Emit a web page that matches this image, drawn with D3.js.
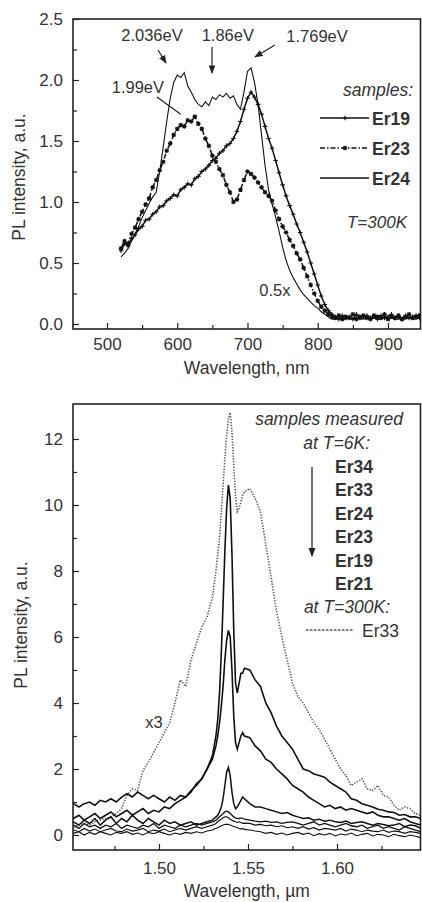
<!DOCTYPE html>
<html><head><meta charset="utf-8">
<script src="https://cdn.jsdelivr.net/npm/d3@7"></script>
<style>body{margin:0;background:#fff}svg{display:block}text{font-family:"Liberation Sans",Arial,sans-serif;fill:#333}</style>
</head><body><svg id="c" width="422" height="902"></svg>
<script>
// ---------- TOP PANEL DATA (T=300K) ----------
const topWl = [520,525,530,535,540,545,550,555,560,565,
570,575,580,585,590,595,600,605,610,615,
620,625,630,635,640,645,650,655,660,665,
670,675,680,685,690,695,700,705,710,715,
720,725,730,735,740,745,750,755,760,765,
770,775,780,785,790,795,800,805,810,815,
820,825,830,835,840,845,850,855,860,865,
870,875,880,885,890,895,900,905,910,915,
920,925,930,935,940,945];
const topEr24 = [0.55,0.58,0.62,0.68,0.74,0.80,0.87,0.93,0.99,1.04,
1.08,1.25,1.45,1.66,1.85,1.98,2.04,2.02,2.06,1.95,
1.90,1.84,1.80,1.78,1.82,1.79,1.86,1.84,1.88,1.86,
1.89,1.85,1.87,1.80,1.76,1.90,2.07,2.10,1.98,1.80,
1.55,1.30,1.10,0.98,0.88,0.76,0.63,0.52,0.44,0.38,
0.33,0.28,0.24,0.21,0.18,0.15,0.13,0.10,0.08,0.06,
0.04,0.04,0.05,0.04,0.04,0.05,0.04,0.05,0.04,0.04,
0.05,0.04,0.05,0.04,0.04,0.05,0.04,0.05,0.04,0.04,
0.05,0.04,0.05,0.04,0.04,0.05];
const topEr23 = [0.62,0.68,0.66,0.74,0.79,0.86,0.92,0.98,1.03,1.12,
1.18,1.26,1.33,1.42,1.48,1.55,1.60,1.63,1.62,1.67,
1.66,1.70,1.64,1.60,1.52,1.46,1.38,1.33,1.27,1.22,
1.14,1.08,1.00,1.02,1.10,1.18,1.25,1.23,1.20,1.16,
1.12,1.08,1.05,1.01,0.93,0.86,0.80,0.75,0.69,0.64,
0.58,0.53,0.46,0.39,0.32,0.25,0.19,0.14,0.11,0.08,
0.06,0.05,0.07,0.04,0.06,0.05,0.08,0.04,0.06,0.07,
0.05,0.04,0.07,0.06,0.05,0.08,0.04,0.06,0.05,0.07,
0.04,0.06,0.08,0.05,0.06,0.07];
const topEr19 = [0.60,0.66,0.64,0.70,0.73,0.78,0.80,0.85,0.86,0.90,
0.92,0.96,0.97,1.01,1.03,1.06,1.05,1.10,1.12,1.15,
1.14,1.19,1.21,1.25,1.27,1.30,1.34,1.36,1.40,1.42,
1.46,1.48,1.52,1.58,1.66,1.76,1.85,1.90,1.86,1.80,
1.72,1.62,1.52,1.44,1.34,1.24,1.14,1.05,0.97,0.90,
0.82,0.75,0.67,0.59,0.50,0.41,0.32,0.23,0.16,0.11,
0.08,0.06,0.04,0.07,0.05,0.06,0.04,0.08,0.05,0.06,
0.07,0.05,0.06,0.04,0.07,0.05,0.06,0.08,0.05,0.06,
0.04,0.07,0.05,0.06,0.07,0.05];
const topXTicks = [500,600,700,800,900];
const topXMinor = [550,650,750,850];
const topYTicks = [0,0.5,1.0,1.5,2.0,2.5];
const topYMinor = [0.25,0.75,1.25,1.75,2.25];
const topLegend = ["Er19","Er23","Er24"];
// annotations: [text, x(nm), y(a.u.)] and arrows [x1,y1,x2,y2,head]
const topLabels = [["2.036eV",564,2.32],["1.86eV",672,2.32],["1.769eV",799,2.31],["1.99eV",544,1.89],["0.5x",739,0.23]];
const topArrows = [[572.6,2.246,584,2.139,1],[649.5,2.27,649.5,2.057,1],[739,2.287,710.7,2.189,1],[571,1.86,605,1.72,0]];

// ---------- BOTTOM PANEL DATA ----------
const botWl = [1.452,1.455,1.458,1.461,1.464,1.467,1.470,1.473,1.476,1.479,
1.482,1.485,1.488,1.491,1.494,1.497,1.500,1.503,1.506,1.509,
1.512,1.515,1.518,1.521,1.524,1.527,1.530,1.531,1.532,1.533,
1.534,1.535,1.536,1.537,1.538,1.539,1.540,1.541,1.542,1.543,
1.544,1.545,1.546,1.547,1.548,1.551,1.554,1.557,1.560,1.563,
1.566,1.569,1.572,1.575,1.578,1.581,1.584,1.587,1.590,1.593,
1.596,1.599,1.602,1.605,1.608,1.611,1.614,1.617,1.620,1.623,
1.626,1.629,1.632,1.635,1.638,1.641,1.644,1.647];
const botEr33RT = [0.25,0.30,0.35,0.30,0.40,0.45,0.50,0.55,0.65,0.80,
1.20,1.40,1.35,1.95,2.20,2.50,2.80,3.10,3.40,4.00,
4.70,4.50,5.30,5.80,6.30,6.60,7.20,7.60,8.00,8.50,
9.00,9.80,10.6,11.4,12.1,12.6,12.8,12.2,11.2,10.3,
9.80,9.90,10.1,10.3,10.4,10.5,10.2,9.80,8.80,7.80,
6.80,6.00,5.30,4.60,4.20,4.00,3.70,3.40,3.20,2.90,
2.60,2.30,2.00,1.80,1.50,1.60,1.70,1.40,1.35,1.50,
1.20,1.15,0.90,0.75,0.85,0.80,0.65,0.60];
const botEr34 = [0.95,0.85,0.95,1.00,0.90,1.05,1.00,1.10,1.00,1.15,
1.25,1.15,1.30,1.20,1.10,1.20,1.10,1.00,1.15,1.05,
1.20,1.15,1.35,1.50,1.70,2.00,2.40,2.70,3.00,3.50,
4.30,5.50,7.00,8.60,9.90,10.6,10.2,8.50,6.20,4.60,
4.30,4.60,4.90,4.90,5.05,5.00,4.70,4.50,4.00,3.70,
3.30,3.00,2.80,2.60,2.30,2.00,1.95,1.85,1.80,1.75,
1.60,1.50,1.40,1.30,1.10,1.05,0.95,0.90,0.85,0.78,
0.75,0.70,0.68,0.60,0.62,0.55,0.55,0.50];
const botEr33 = [0.50,0.60,0.45,0.55,0.65,0.50,0.60,0.70,0.55,0.65,
0.75,0.60,0.70,0.80,0.65,0.75,0.70,0.85,0.80,0.95,
1.05,1.15,1.30,1.55,1.70,2.00,2.30,2.50,2.70,3.00,
3.40,3.90,4.50,5.30,5.90,6.20,6.00,5.00,3.60,2.80,
2.60,2.80,3.00,3.10,3.00,2.95,2.70,2.55,2.30,2.20,
2.00,1.85,1.70,1.50,1.40,1.30,1.15,1.05,0.95,0.85,
0.90,0.80,0.85,0.75,0.80,0.75,0.70,0.65,0.70,0.60,
0.55,0.55,0.50,0.45,0.50,0.40,0.35,0.30];
const botEr24 = [0.40,0.30,0.45,0.35,0.50,0.30,0.45,0.55,0.35,0.50,
0.40,0.60,0.45,0.35,0.50,0.40,0.30,0.45,0.35,0.40,
0.30,0.35,0.40,0.30,0.35,0.40,0.45,0.50,0.55,0.60,
0.70,0.85,1.10,1.50,1.90,2.05,1.80,1.30,0.95,0.80,
0.85,0.95,1.05,1.15,1.10,0.95,0.85,0.85,0.80,0.75,
0.70,0.65,0.68,0.60,0.55,0.50,0.52,0.45,0.48,0.42,
0.45,0.40,0.38,0.42,0.35,0.38,0.40,0.35,0.30,0.35,
0.32,0.28,0.30,0.35,0.25,0.30,0.28,0.20];
const botEr23 = [0.30,0.20,0.35,0.25,0.30,0.20,0.30,0.25,0.35,0.20,
0.30,0.25,0.20,0.30,0.25,0.35,0.20,0.30,0.25,0.20,
0.30,0.25,0.30,0.35,0.30,0.35,0.40,0.42,0.45,0.50,
0.55,0.60,0.65,0.70,0.72,0.70,0.65,0.60,0.55,0.52,
0.50,0.50,0.52,0.50,0.48,0.45,0.42,0.40,0.42,0.38,
0.40,0.35,0.38,0.40,0.35,0.30,0.35,0.40,0.30,0.35,
0.30,0.25,0.30,0.35,0.28,0.25,0.30,0.20,0.25,0.30,
0.20,0.25,0.20,0.15,0.25,0.20,0.15,0.10];
const botEr19 = [0.15,0.10,0.20,0.12,0.18,0.10,0.15,0.20,0.12,0.10,
0.18,0.12,0.15,0.20,0.10,0.15,0.12,0.18,0.10,0.15,
0.20,0.15,0.20,0.25,0.20,0.25,0.30,0.32,0.35,0.40,
0.45,0.48,0.52,0.55,0.55,0.52,0.48,0.45,0.42,0.40,
0.38,0.40,0.38,0.35,0.36,0.35,0.30,0.32,0.28,0.30,
0.25,0.28,0.22,0.25,0.20,0.25,0.18,0.22,0.15,0.20,
0.18,0.15,0.20,0.12,0.18,0.15,0.10,0.15,0.12,0.10,
0.15,0.08,0.12,0.10,0.05,0.10,0.08,0.05];
const botEr21 = [0.05,0.10,0.00,0.08,0.02,0.10,0.05,0.00,0.08,0.05,
0.10,0.02,0.06,0.00,0.08,0.04,0.10,0.05,0.00,0.06,
0.02,0.08,0.05,0.10,0.06,0.12,0.15,0.18,0.20,0.22,
0.25,0.28,0.30,0.32,0.33,0.32,0.30,0.28,0.26,0.24,
0.22,0.20,0.18,0.20,0.17,0.15,0.12,0.10,0.05,0.08,
0.02,0.06,0.00,0.05,0.08,0.02,0.06,-0.02,0.04,0.00,
0.05,-0.03,0.03,0.00,0.06,-0.02,0.02,0.05,-0.03,0.02,
0.00,-0.05,0.02,-0.02,-0.05,0.00,-0.04,-0.08];
const botXTicks = [1.50,1.55,1.60];
const botXMinor = [1.475,1.525,1.575,1.625];
const botYTicks = [0,2,4,6,8,10,12];
const botYMinor = [1,3,5,7,9,11];
const botLegend6K = ["Er34","Er33","Er24","Er23","Er19","Er21"];
const botLegendRT = "Er33";
const botLabels = [["x3",1.4972,3.24]];

// ---------- DRAWING ----------
const svg = d3.select('#c');
svg.append('defs').append('marker').attr('id','ah').attr('viewBox','0 0 10 10')
  .attr('refX',9).attr('refY',5).attr('markerWidth',7).attr('markerHeight',7).attr('orient','auto')
  .append('path').attr('d','M0,1L10,5L0,9Z').attr('fill','#222');

function panel(x, y, o) {
  const g = svg.append('g');
  const [x0,x1] = x.range(), [y0,y1] = y.range();
  const id = 'clip'+o.id;
  svg.select('defs').append('clipPath').attr('id',id).append('rect')
    .attr('x',x0).attr('y',y1).attr('width',x1-x0).attr('height',y0-y1);
  // ticks
  const ax = g.append('g').attr('transform',`translate(0,${y0})`)
    .call(d3.axisBottom(x).tickValues(o.xt).tickSize(-6).tickPadding(o.xpad).tickFormat(o.xf));
  g.append('g').attr('transform',`translate(0,${y0})`)
    .call(d3.axisBottom(x).tickValues(o.xm).tickSize(-4).tickFormat(''));
  const ay = g.append('g').attr('transform',`translate(${x0},0)`)
    .call(d3.axisLeft(y).tickValues(o.yt).tickSize(-6).tickPadding(10).tickFormat(o.yf));
  g.append('g').attr('transform',`translate(${x0},0)`)
    .call(d3.axisLeft(y).tickValues(o.ym).tickSize(-4).tickFormat(''));
  g.selectAll('.domain').remove();
  g.selectAll('.tick line').attr('stroke','#222').attr('stroke-width',1.2);
  g.selectAll('.tick text').attr('font-size',17).attr('fill','#333')
    .attr('font-family','"Liberation Sans",Arial,sans-serif');
  g.append('rect').attr('x',x0).attr('y',y1).attr('width',x1-x0).attr('height',y0-y1)
    .attr('fill','none').attr('stroke','#222').attr('stroke-width',1.6);
  // axis titles
  g.append('text').attr('x',(x0+x1)/2).attr('y',o.xty).attr('text-anchor','middle')
    .attr('font-size',17.5).text(o.xtitle);
  g.append('text').attr('transform',`translate(${o.ytx},${o.yty}) rotate(-90)`)
    .attr('text-anchor','middle').attr('font-size',17.5).text('PL intensity, a.u.');
  return g.append('g').attr('clip-path',`url(#${id})`);
}

// TOP
const xT = d3.scaleLinear().domain([451.6,946.3]).range([73,420.5]);
const yT = d3.scaleLinear().domain([-0.041,2.5]).range([329,19]);
const pT = panel(xT, yT, {id:'t', xt:topXTicks, xm:topXMinor, yt:topYTicks, ym:topYMinor,
  xf:d3.format('d'), yf:d3.format('.1f'), xpad:9, xty:374, xtitle:'Wavelength, nm', ytx:25, yty:177});
const lineT = d3.line().x(d=>xT(d[0])).y(d=>yT(d[1]));
const ser = (xs, ys) => xs.map((v,i)=>[v, ys[i]]);
const plusP = 'M-2.3,0H2.3M0,-2.3V2.3';
const starP = 'M-2.3,0H2.3M0,-2.3V2.3M-1.7,-1.7L1.7,1.7M-1.7,1.7L1.7,-1.7';

pT.append('path').datum(ser(topWl, topEr24)).attr('d',lineT)
  .attr('fill','none').attr('stroke','#111').attr('stroke-width',1.1);
[[topEr23,'5,2,1.5,2',starP],[topEr19,null,plusP]].forEach(([ys,dash,mk])=>{
  const d = ser(topWl, ys);
  pT.append('path').datum(d).attr('d',lineT).attr('fill','none').attr('stroke','#111')
    .attr('stroke-width',1.5).attr('stroke-dasharray',dash);
  pT.selectAll(null).data(d).enter().append('path')
    .attr('transform',p=>`translate(${xT(p[0])},${yT(p[1])})`).attr('d',mk)
    .attr('stroke','#111').attr('stroke-width',1.1).attr('fill','none');
});
// annotations
topLabels.forEach(([t,a,b])=>svg.append('text').attr('x',xT(a)).attr('y',yT(b))
  .attr('text-anchor','middle').attr('font-size',16.5).text(t));
topArrows.forEach(([a,b,c,d,h])=>{
  const l = svg.append('line').attr('x1',xT(a)).attr('y1',yT(b)).attr('x2',xT(c)).attr('y2',yT(d))
    .attr('stroke','#222').attr('stroke-width',1.2);
  if (h) l.attr('marker-end','url(#ah)');
});
// top legend
svg.append('text').attr('x',413).attr('y',96).attr('text-anchor','end')
  .attr('font-size',17.5).attr('font-style','italic').text('samples:');
topLegend.forEach((n,i)=>{
  const yy = 118 + i*30;
  svg.append('line').attr('x1',320).attr('x2',369).attr('y1',yy).attr('y2',yy)
    .attr('stroke','#111').attr('stroke-width',1.5).attr('stroke-dasharray', i===1?'5,2,1.5,2':null);
  if (i<2) svg.append('path').attr('transform',`translate(345,${yy})`).attr('d', i===0?plusP:starP)
    .attr('stroke','#111').attr('stroke-width',1.2).attr('fill','none');
  svg.append('text').attr('x',372).attr('y',yy+7).attr('font-size',17.5).attr('font-weight','bold')
    .attr('fill','#222').text(n);
});
svg.append('text').attr('x',407).attr('y',228).attr('text-anchor','end')
  .attr('font-size',17).attr('font-style','italic').text('T=300K');

// BOTTOM
const xB = d3.scaleLinear().domain([1.4517,1.6469]).range([73,420.5]);
const yB = d3.scaleLinear().domain([-0.4545,13.06]).range([850,404]);
const pB = panel(xB, yB, {id:'b', xt:botXTicks, xm:botXMinor, yt:botYTicks, ym:botYMinor,
  xf:d3.format('.2f'), yf:d3.format('d'), xpad:12, xty:897, xtitle:'Wavelength, \u00b5m', ytx:27, yty:625});
const lineB = d3.line().x(d=>xB(d[0])).y(d=>yB(d[1]));
pB.append('path').datum(ser(botWl, botEr33RT)).attr('d',lineB).attr('fill','none')
  .attr('stroke','#555').attr('stroke-width',1.6).attr('stroke-dasharray','1.3,1.5');
[[botEr21,1.1],[botEr19,1.2],[botEr23,1.3],[botEr24,1.5],[botEr33,1.6],[botEr34,1.6]].forEach(([ys,w])=>{
  pB.append('path').datum(ser(botWl, ys)).attr('d',lineB).attr('fill','none')
    .attr('stroke','#111').attr('stroke-width',w);
});
botLabels.forEach(([t,a,b])=>svg.append('text').attr('x',xB(a)).attr('y',yB(b))
  .attr('text-anchor','middle').attr('font-size',16.5).text(t));
// bottom legend
svg.append('text').attr('x',403).attr('y',425).attr('text-anchor','end')
  .attr('font-size',17.5).attr('font-style','italic').text('samples measured');
svg.append('text').attr('x',370).attr('y',449).attr('text-anchor','end')
  .attr('font-size',17.5).attr('font-style','italic').text('at T=6K:');
svg.append('line').attr('x1',312).attr('x2',312).attr('y1',467).attr('y2',556)
  .attr('stroke','#222').attr('stroke-width',1.3).attr('marker-end','url(#ah)');
botLegend6K.forEach((n,i)=>svg.append('text').attr('x',335).attr('y',473+i*23.4)
  .attr('font-size',17.5).attr('font-weight','bold').attr('fill','#222').text(n));
svg.append('text').attr('x',390).attr('y',613).attr('text-anchor','end')
  .attr('font-size',17.5).attr('font-style','italic').text('at T=300K:');
svg.append('line').attr('x1',306).attr('x2',353).attr('y1',630).attr('y2',630)
  .attr('stroke','#555').attr('stroke-width',1.6).attr('stroke-dasharray','2.5,1.5');
svg.append('text').attr('x',362).attr('y',637).attr('font-size',17.5).attr('fill','#222').text(botLegendRT);
</script></body></html>
